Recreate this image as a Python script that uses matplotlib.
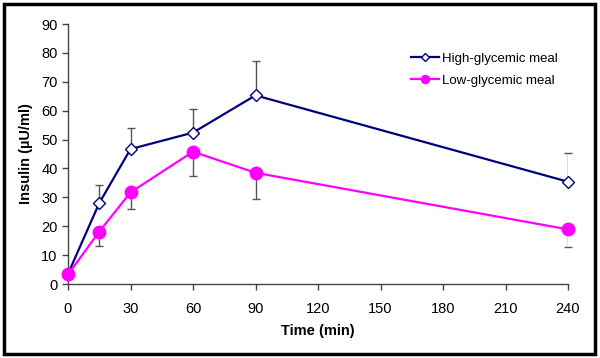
import matplotlib
matplotlib.use("Agg")
import matplotlib.pyplot as plt
from matplotlib.patches import Rectangle

plt.rcParams['font.family'] = ['Liberation Sans', 'DejaVu Sans']

time_min = [0, 15, 30, 60, 90, 240]
high_gi = [3.5, 28.0, 46.7, 52.4, 65.3, 35.4]
high_err = [0, 6.4, 7.4, 8.3, 11.9, 10.0]
low_gi = [3.3, 18.1, 31.7, 45.8, 38.5, 18.9]
low_err = [0, 4.8, 5.6, 8.4, 9.1, 6.0]
x_ticks = [0, 30, 60, 90, 120, 150, 180, 210, 240]
y_ticks = [0, 10, 20, 30, 40, 50, 60, 70, 80, 90]

fig = plt.figure(figsize=(6.0, 3.58), dpi=100)
ax = fig.add_axes([68/600, 1-284/358, 500/600, 260/358])

err_col = '#555555'
ax.errorbar(time_min, high_gi, yerr=[[0]*len(high_err), high_err], fmt='none',
            ecolor=err_col, elinewidth=1.0, capsize=3, capthick=1.0, zorder=2)
ax.errorbar(time_min, low_gi, yerr=[low_err, [0]*len(low_err)], fmt='none',
            ecolor=err_col, elinewidth=1.0, capsize=3, capthick=1.0, zorder=2)

ax.plot(time_min, high_gi, color='#000080', lw=1.6, marker='D', markersize=6,
        markerfacecolor='white', markeredgecolor='#000080', markeredgewidth=1.0,
        label='High-glycemic meal', zorder=3)
ax.plot(time_min, low_gi, color='#FF00FF', lw=1.6, marker='o', markersize=9,
        markerfacecolor='#FF00FF', markeredgecolor='#FF00FF',
        label='Low-glycemic meal', zorder=3)

ax.set_xlim(0, 240)
ax.set_ylim(0, 90)
ax.set_xticks(x_ticks)
ax.set_yticks(y_ticks)
ax.tick_params(axis='both', labelsize=10.5, color='#444444', direction='out', length=4, width=1)
ax.tick_params(axis='x', pad=9)
for s in ['top', 'right']:
    ax.spines[s].set_visible(False)
for s in ['left', 'bottom']:
    ax.spines[s].set_color('#444444')
    ax.spines[s].set_linewidth(1.0)
for ln in ax.lines:
    ln.set_clip_on(False)

ax.set_xlabel('Time (min)', fontsize=10.5, fontweight='bold', labelpad=6)
ax.set_ylabel('Insulin (\u00b5U/ml)', fontsize=10.5, fontweight='bold', labelpad=6)

leg = ax.legend(loc='upper left', bbox_to_anchor=(338/500, 0.91), frameon=False,
                fontsize=9.5, handlelength=2.1, handletextpad=0.2, labelspacing=0.75,
                markerscale=0.65, borderaxespad=0)

fig.patches.append(Rectangle((4/600, 4/358), 591/600, 350/358, transform=fig.transFigure,
                             fill=False, edgecolor='black', linewidth=2.5))

fig.savefig('out.png', dpi=100)
